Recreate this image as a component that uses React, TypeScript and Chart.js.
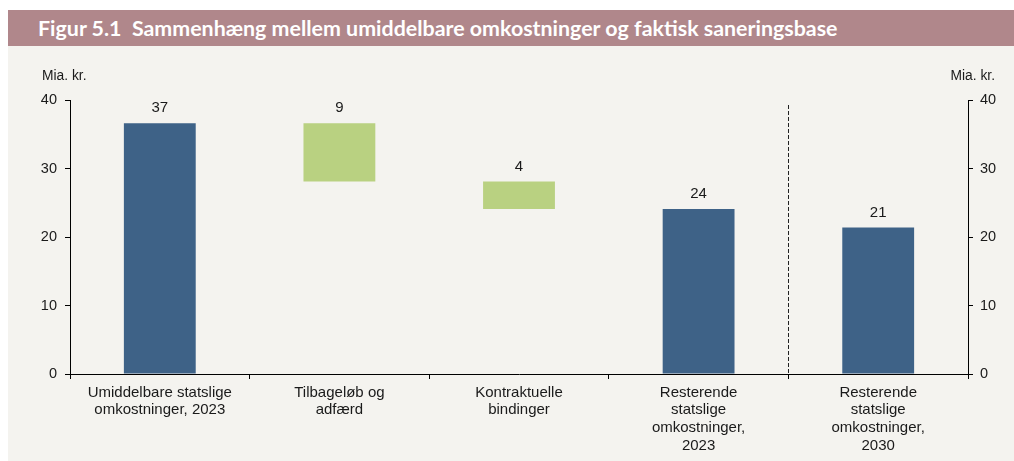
import React, { useEffect, useRef } from "react";
import { Chart, registerables } from "chart.js";

Chart.register(...registerables);

const TITLE = "Figur 5.1  Sammenhæng mellem umiddelbare omkostninger og faktisk saneringsbase";
const UNIT = "Mia. kr.";
const categories: string[][] = [
  ["Umiddelbare statslige", "omkostninger, 2023"],
  ["Tilbageløb og", "adfærd"],
  ["Kontraktuelle", "bindinger"],
  ["Resterende", "statslige", "omkostninger,", "2023"],
  ["Resterende", "statslige", "omkostninger,", "2030"],
];
const barStart = [0, 28.1, 24.1, 0, 0];
const barEnd = [36.6, 36.6, 28.1, 24.1, 21.4];
const valueLabels = ["37", "9", "4", "24", "21"];
const barKinds = ["total", "change", "change", "total", "total"];
const yTicks = [0, 10, 20, 30, 40];

const BLUE = "#3e6287";
const GREEN = "#b9d181";
const FONT = "'Liberation Sans', Arial, sans-serif";
const TXT = "#1a1a1a";

const overlayPlugin = {
  id: "overlay",
  afterDatasetsDraw(chart: any) {
    const ctx = chart.ctx;
    const meta = chart.getDatasetMeta(0);
    ctx.save();
    ctx.fillStyle = TXT;
    ctx.font = `15px ${FONT}`;
    ctx.textAlign = "center";
    ctx.textBaseline = "middle";
    meta.data.forEach((el: any, i: number) => {
      ctx.fillText(valueLabels[i], el.x, el.y - 15);
    });
    // dashed separator between 4th and 5th category
    const xs = chart.scales.x;
    const sx = Math.round((xs.getPixelForValue(3) + xs.getPixelForValue(4)) / 2) + 0.5;
    const ca = chart.chartArea;
    ctx.strokeStyle = "#222";
    ctx.lineWidth = 1;
    ctx.setLineDash([4, 2]);
    ctx.beginPath();
    ctx.moveTo(sx, ca.top + 5);
    ctx.lineTo(sx, ca.bottom);
    ctx.stroke();
    ctx.setLineDash([]);
    // unit labels
    ctx.font = `13.8px ${FONT}`;
    ctx.textBaseline = "middle";
    ctx.textAlign = "left";
    ctx.fillText(UNIT, 34, 30);
    ctx.textAlign = "right";
    ctx.fillText(UNIT, 987, 30);
    ctx.restore();
  },
};

export default function App() {
  const ref = useRef<HTMLCanvasElement | null>(null);
  useEffect(() => {
    if (!ref.current) return;
    const chart = new Chart(ref.current, {
      type: "bar",
      data: {
        labels: categories as any,
        datasets: [
          {
            data: barStart.map((s, i) => [s, barEnd[i]]) as any,
            backgroundColor: barKinds.map((k) => (k === "total" ? BLUE : GREEN)),
            barPercentage: 0.4,
            categoryPercentage: 1,
            borderWidth: 0,
          },
        ],
      },
      options: {
        animation: false,
        responsive: false,
        maintainAspectRatio: false,
        layout: { padding: { top: 54, left: 0, right: 0, bottom: 0 } },
        plugins: { legend: { display: false }, tooltip: { enabled: false } },
        scales: {
          x: {
            grid: { drawOnChartArea: false, drawTicks: true, tickLength: 5, color: "#000", offset: true },
            border: { color: "#000", width: 1 },
            ticks: { color: TXT, font: { family: FONT, size: 15, lineHeight: 1.17 }, padding: 5, maxRotation: 0, autoSkip: false },
            afterFit(s: any) { s.height = 87; },
          },
          y: {
            position: "left",
            min: 0,
            max: 40,
            afterBuildTicks(s: any) { s.ticks = yTicks.map((v) => ({ value: v })); },
            grid: { drawOnChartArea: false, drawTicks: true, tickLength: 5, color: "#000" },
            border: { color: "#000", width: 1 },
            ticks: { color: TXT, font: { family: FONT, size: 14.5 }, padding: 8 },
            afterFit(s: any) { s.width = 62; },
          },
          y2: {
            position: "right",
            min: 0,
            max: 40,
            afterBuildTicks(s: any) { s.ticks = yTicks.map((v) => ({ value: v })); },
            grid: { drawOnChartArea: false, drawTicks: true, tickLength: 5, color: "#000" },
            border: { color: "#000", width: 1 },
            ticks: { color: TXT, font: { family: FONT, size: 14.5 }, padding: 7 },
            afterFit(s: any) { s.width = 46; },
          },
        },
      },
      plugins: [overlayPlugin],
    });
    return () => chart.destroy();
  }, []);

  return (
    <div style={{ position: "absolute", left: 0, top: 0, width: 1014, height: 461, background: "#fff" }}>
      <div
        style={{
          position: "absolute",
          left: 8,
          top: 10,
          width: 1006,
          height: 36,
          background: "#b0878b",
          color: "#fff",
          fontFamily: "Lato, 'Open Sans', sans-serif",
          fontWeight: 700,
          fontSize: 21.4,
          lineHeight: "37px",
          whiteSpace: "pre",
          boxSizing: "border-box",
          paddingLeft: 30,
        }}
      >
        {TITLE}
      </div>
      <div style={{ position: "absolute", left: 8, top: 46, width: 1006, height: 415, background: "#f4f3ef" }}>
        <canvas ref={ref} width={1006} height={415} style={{ display: "block", width: 1006, height: 415 }} />
      </div>
    </div>
  );
}
